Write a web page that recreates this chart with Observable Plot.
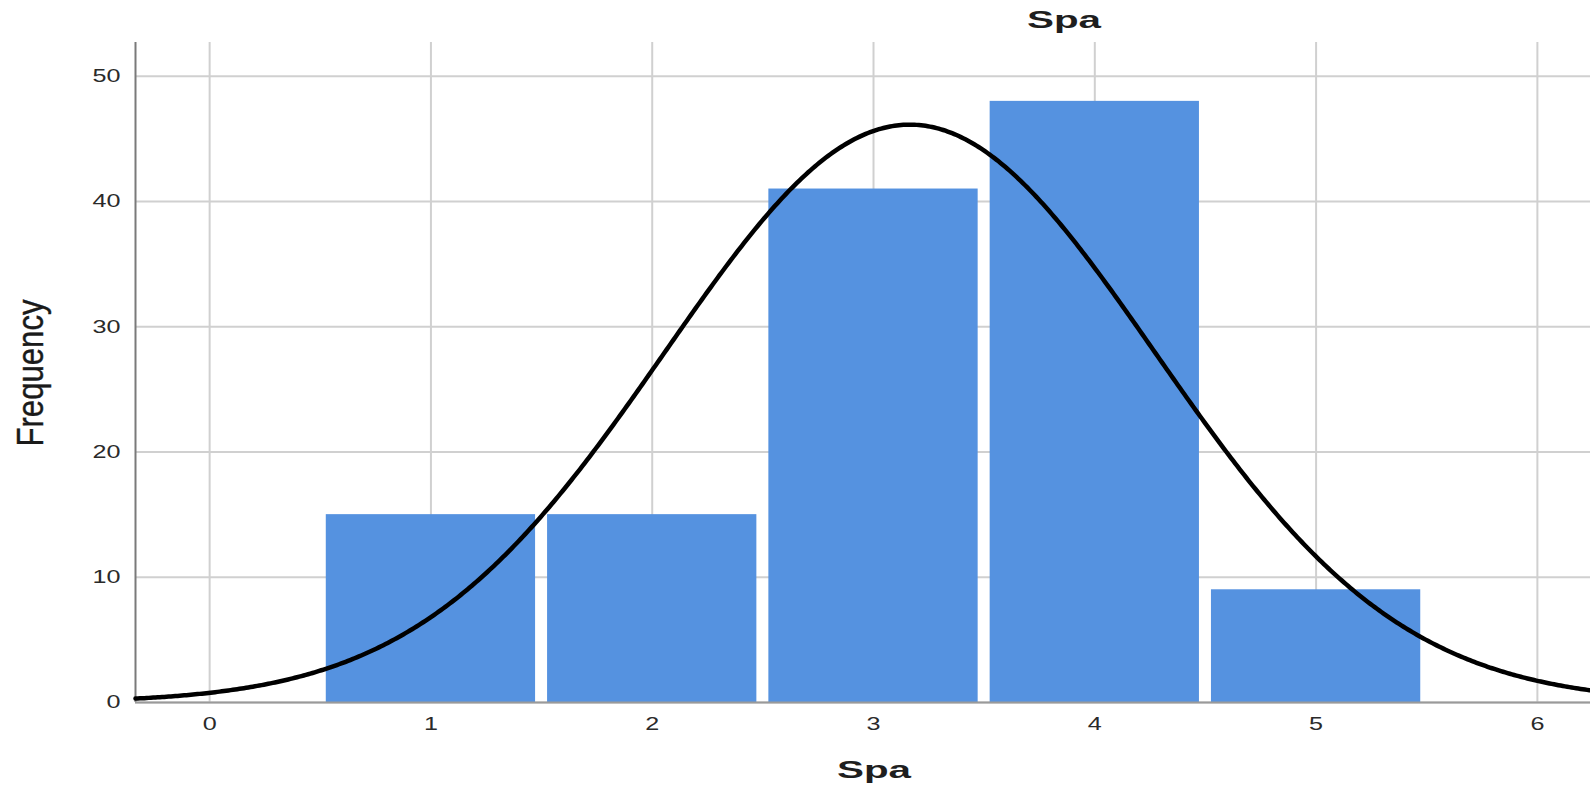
<!DOCTYPE html>
<html>
<head>
<meta charset="utf-8">
<script src="https://cdn.jsdelivr.net/npm/d3@7"></script>
<script src="https://cdn.jsdelivr.net/npm/@observablehq/plot@0.6"></script>
<style>
  body { margin: 0; background: #fff; }
  #chart { width: 1590px; height: 787px; }
</style>
</head>
<body>
<div id="chart"></div>
<script>
// Histogram of "Spa" scores with a fitted normal curve
const scores = [1, 2, 3, 4, 5];
const counts = [15, 15, 41, 48, 9];
const xTicks = [0, 1, 2, 3, 4, 5, 6];
const yTicks = [0, 10, 20, 30, 40, 50];
const title = "Spa";
const xLabel = "Spa";
const yLabel = "Frequency";

const xDomain = [-0.335, 6.24];
const yDomain = [0, 52.7];

// one bin per score, unit width
const bins = scores.map((v, i) => ({x1: v - 0.5, x2: v + 0.5, count: counts[i]}));

// normal curve fitted to the binned data (mean, sample sd), scaled to counts
const n = d3.sum(counts);
const mean = d3.sum(scores, (v, i) => v * counts[i]) / n;
const sd = Math.sqrt(d3.sum(scores, (v, i) => counts[i] * (v - mean) ** 2) / (n - 1));
const density = (x) => n / (sd * Math.sqrt(2 * Math.PI)) * Math.exp(-0.5 * ((x - mean) / sd) ** 2);
const curve = d3.range(xDomain[0], xDomain[1] + 0.001, 0.01).map((x) => ({x, y: density(x)}));

const plot = Plot.plot({
  width: 1590,
  height: 787,
  marginLeft: 135,
  marginRight: 0,
  marginTop: 42,
  marginBottom: 85,
  style: {fontFamily: "'Liberation Sans', Arial, sans-serif", fontSize: "18px", color: "#2a2a2a", background: "#fff"},
  x: {domain: xDomain, ticks: xTicks, tickSize: 0, tickPadding: 15, label: null, tickFormat: d3.format("d")},
  y: {domain: yDomain, ticks: yTicks, tickSize: 0, tickPadding: 15, label: null},
  marks: [
    Plot.ruleX(xTicks, {stroke: "#d0d0d0", strokeWidth: 2}),
    Plot.ruleY(yTicks, {stroke: "#d0d0d0", strokeWidth: 2}),
    Plot.rectY(bins, {x1: "x1", x2: "x2", y: "count", fill: "#5592e0", insetLeft: 6, insetRight: 6}),
    Plot.ruleX([xDomain[0]], {stroke: "#7a7a7a", strokeWidth: 2}),
    Plot.ruleY([0], {stroke: "#9a9a9a", strokeWidth: 2}),
    Plot.line(curve, {x: "x", y: "y", stroke: "#000", strokeWidth: 4.5})
  ]
});

document.getElementById("chart").append(plot);

// widen the tick labels
plot.querySelectorAll('[aria-label^="x-axis"] text, [aria-label^="y-axis"] text').forEach((t) => {
  const w = t.getComputedTextLength();
  t.setAttribute("textLength", (w * 1.4).toFixed(1));
  t.setAttribute("lengthAdjust", "spacingAndGlyphs");
});

const svg = d3.select(plot);

svg.append("text")
  .attr("x", 1064).attr("y", 28)
  .attr("text-anchor", "middle")
  .attr("font-family", "'Liberation Sans', Arial, sans-serif")
  .attr("font-weight", "bold").attr("font-size", 24)
  .attr("fill", "#1e1e1e")
  .attr("textLength", 74).attr("lengthAdjust", "spacingAndGlyphs")
  .text(title);

svg.append("text")
  .attr("x", 874).attr("y", 778)
  .attr("text-anchor", "middle")
  .attr("font-family", "'Liberation Sans', Arial, sans-serif")
  .attr("font-weight", "bold").attr("font-size", 24)
  .attr("fill", "#1e1e1e")
  .attr("textLength", 74).attr("lengthAdjust", "spacingAndGlyphs")
  .text(xLabel);

svg.append("text")
  .attr("transform", "translate(43,373) rotate(-90)")
  .attr("text-anchor", "middle")
  .attr("font-family", "'Liberation Sans Narrow', 'Liberation Sans', Arial, sans-serif")
  .attr("font-size", 37)
  .attr("fill", "#1a1a1a")
  .attr("stroke", "#1a1a1a").attr("stroke-width", 0.4)
  .attr("textLength", 147).attr("lengthAdjust", "spacingAndGlyphs")
  .text(yLabel);
</script>
</body>
</html>
